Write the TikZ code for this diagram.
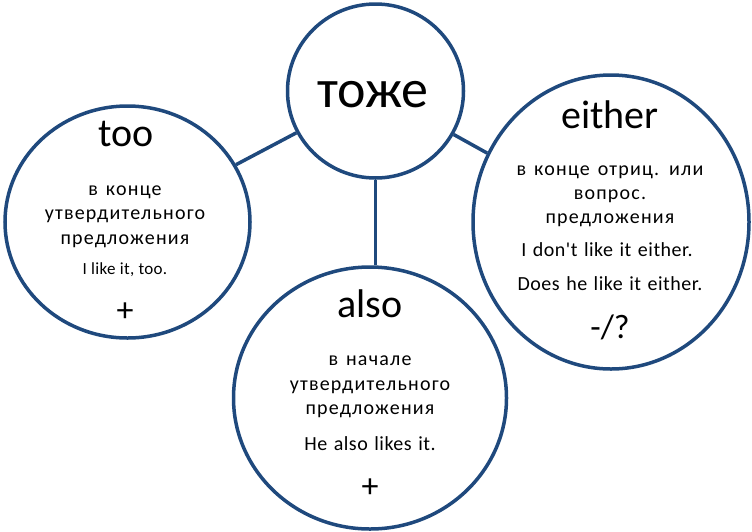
\documentclass[tikz,border=0pt]{standalone}
\usepackage{fontspec}
\setmainfont{Carlito}
\newfontfamily\spacedfont[LetterSpace=6,WordSpace=1.4]{Carlito}
\newfontfamily\samplefont[LetterSpace=2.5,WordSpace=1.3]{Carlito}
\newfontfamily\smallsamplefont[LetterSpace=2]{Carlito}
\usetikzlibrary{shapes.geometric}
\definecolor{ringblue}{RGB}{31,73,125}
\tikzstyle{bubble}=[ellipse,draw=ringblue,line width=3.5pt,fill=white,inner sep=0pt]
\tikzstyle{link}=[draw=ringblue,line width=3.5pt]
\tikzstyle{keyword}=[font=\fontsize{54}{60}\selectfont,anchor=base]
\tikzstyle{headword}=[font=\fontsize{40}{48}\selectfont,anchor=base]
\tikzstyle{ruleline}=[font=\spacedfont\fontsize{20}{24}\selectfont,anchor=base]
\tikzstyle{sample}=[font=\samplefont\fontsize{20}{24}\selectfont,anchor=base]
\tikzstyle{sign}=[font=\fontsize{34}{40}\selectfont]

\begin{document}
\begin{tikzpicture}[x=1pt,y=-1pt]
\useasboundingbox (0,0) rectangle (752,531);

% bubbles
\node[bubble,minimum width=176pt,minimum height=174pt] (tozhe) at (375.5,91) {};
\node[bubble,minimum width=245pt,minimum height=232pt] (too) at (127.5,222) {};
\node[bubble,minimum width=276pt,minimum height=294pt] (either) at (611,222) {};
\node[bubble,minimum width=273pt,minimum height=262pt] (also) at (370,398) {};

% links
\path[link] (tozhe) -- (too);
\path[link] (tozhe) -- (either);
\path[link] (tozhe.south) -- (tozhe.south |- also.north);

% centre
\node[keyword] (tozhe-w) at (373,107) {тоже};

% too
\node[headword] (too-w) at (126,146) {too};
\foreach \i/\yy/\txt in {1/195/в конце, 2/219.5/утвердительного, 3/244/предложения}
  \node[ruleline] (too-\i) at (125,\yy) {\txt};
\node[sample,font=\smallsamplefont\fontsize{17}{20}\selectfont] (too-ex) at (125,274) {I like it, too.};
\node[sign] (too-sign) at (125,312) {+};

% either
\node[headword] (either-w) at (610,128) {either};
\foreach \i/\yy/\txt in {1/175/в конце отриц. или, 2/199/вопрос., 3/223/предложения}
  \node[ruleline] (either-\i) at (610,\yy) {\txt};
\node[sample] (either-ex1) at (607,256) {I don't like it either.};
\node[sample] (either-ex2) at (610,290) {Does he like it either.};
\node[sign] (either-sign) at (610,327) {-/?};

% also
\node[headword] (also-w) at (370,317) {also};
\foreach \i/\yy/\txt in {1/365/в начале, 2/390/утвердительного, 3/414/предложения}
  \node[ruleline] (also-\i) at (370,\yy) {\txt};
\node[sample] (also-ex) at (370,450) {He also likes it.};
\node[sign] (also-sign) at (370,488) {+};

\end{tikzpicture}
\end{document}
